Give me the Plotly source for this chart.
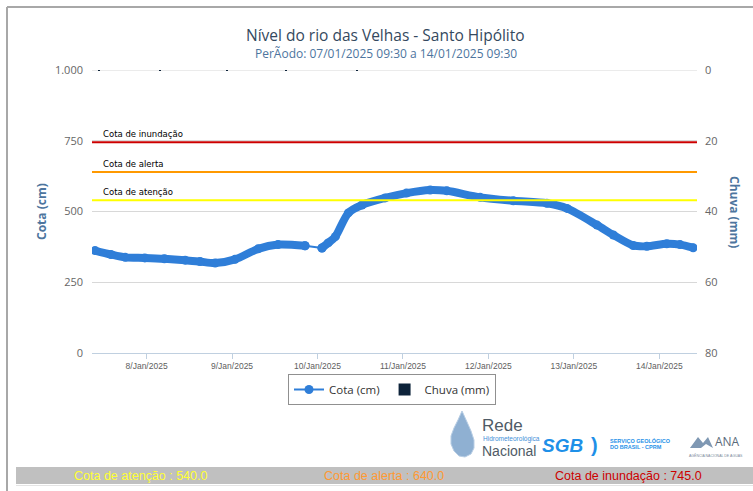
import plotly.graph_objects as go

# ---------------- data ----------------
cota_tempo_1 = ["2025-01-07 09:30", "2025-01-07 14:00", "2025-01-07 18:00", "2025-01-07 23:30",
                "2025-01-08 05:00", "2025-01-08 10:50", "2025-01-08 15:00", "2025-01-08 19:15",
                "2025-01-09 00:50", "2025-01-09 07:20", "2025-01-09 12:55", "2025-01-09 20:30"]
cota_valor_1 = [362, 348, 338, 336, 333, 328, 323, 318, 331, 368, 383, 379]

cota_tempo_2 = ["2025-01-10 01:15", "2025-01-10 03:00", "2025-01-10 05:00", "2025-01-10 08:40",
                "2025-01-10 12:30", "2025-01-10 19:00", "2025-01-11 01:00", "2025-01-11 07:40",
                "2025-01-11 12:20", "2025-01-11 21:40", "2025-01-12 07:00", "2025-01-12 16:25",
                "2025-01-12 22:05", "2025-01-13 06:30", "2025-01-13 11:05", "2025-01-13 16:40",
                "2025-01-13 20:30", "2025-01-14 02:05", "2025-01-14 05:50", "2025-01-14 09:30"]
cota_valor_2 = [371, 389, 411, 495, 523, 548, 565, 576, 573, 550, 538, 529, 511, 452, 417,
                380, 377, 386, 383, 372]

chuva_tempo = ["2025-01-07 10:35", "2025-01-08 03:50", "2025-01-08 22:35", "2025-01-09 15:10",
               "2025-01-10 11:05"]
chuva_valor = [0.25, 0.25, 0.25, 0.25, 0.25]

limiar_nome = ["Cota de inundação", "Cota de alerta", "Cota de atenção"]
limiar_valor = [745, 640, 540]
limiar_cor = ["#cc0000", "#ff9900", "#ffff00"]

y_ticks = [0, 250, 500, 750, 1000]
y_ticktext = ["0", "250", "500", "750", "1.000"]
y2_ticks = [0, 20, 40, 60, 80]

titulo = "Nível do rio das Velhas - Santo Hipólito"
subtitulo = "PerÃodo: 07/01/2025 09:30 a 14/01/2025 09:30"

rodape_texto = ["Cota de atenção : 540.0", "Cota de alerta : 640.0", "Cota de inundação : 745.0"]
rodape_cor = ["#ffff33", "#ff9933", "#cc0000"]

# ---------------- layout helpers ----------------
W, H = 753, 491
def px(x):
    return x / W
def py(y):
    return 1 - y / H

X0, X1 = 92, 697
Y0, Y1 = 70, 353

LINE = "#2f7ed8"
FONT = "Open Sans, DejaVu Sans, sans-serif"
NARROW = "Liberation Sans Narrow, Arial Narrow, Liberation Sans, sans-serif"

fig = go.Figure()

# thin connector across the data gap (also carries the legend entry)
fig.add_trace(go.Scatter(x=[cota_tempo_1[-1], cota_tempo_2[0]],
                         y=[cota_valor_1[-1], cota_valor_2[0]],
                         mode="lines+markers", name="Cota (cm)", legendgroup="cota",
                         line=dict(color=LINE, width=2),
                         marker=dict(color=LINE, size=9)))

# rain bars (secondary axis, reversed)
fig.add_trace(go.Bar(x=chuva_tempo, y=chuva_valor, yaxis="y2", name="Chuva (mm)",
                     marker=dict(color="#0d233a", line=dict(width=0)),
                     width=1500000))

for tt, vv in ((cota_tempo_1, cota_valor_1), (cota_tempo_2, cota_valor_2)):
    fig.add_trace(go.Scatter(x=tt, y=vv, mode="lines+markers",
                             name="Cota (cm)", legendgroup="cota", showlegend=False,
                             line=dict(color=LINE, width=8, shape="spline", smoothing=0.8),
                             marker=dict(color=LINE, size=9)))

shapes = []
annotations = []

# top grid line (edge of the range)
shapes.append(dict(type="line", xref="paper", yref="y", x0=px(X0), x1=px(X1),
                   y0=y_ticks[-1], y1=y_ticks[-1], line=dict(color="#d8d8d8", width=1),
                   layer="below"))

# threshold lines
for nome, val, cor in zip(limiar_nome, limiar_valor, limiar_cor):
    shapes.append(dict(type="line", xref="paper", yref="y", x0=px(X0), x1=px(X1),
                       y0=val, y1=val, line=dict(color=cor, width=2), layer="above"))
    annotations.append(dict(xref="paper", yref="y", x=px(101), y=val, text=nome,
                            showarrow=False, xanchor="left", yanchor="bottom", yshift=1,
                            font=dict(family="DejaVu Sans, Verdana, sans-serif", size=8.5,
                                      color="#000000")))

# outer frame
shapes.append(dict(type="line", xref="paper", yref="paper", x0=px(7), x1=1,
                   y0=py(7), y1=py(7), line=dict(color="#a8a8a8", width=2)))
shapes.append(dict(type="line", xref="paper", yref="paper", x0=px(7), x1=px(7),
                   y0=py(7), y1=0, line=dict(color="#a8a8a8", width=2)))

# footer gray bar
shapes.append(dict(type="rect", xref="paper", yref="paper", x0=px(16), x1=1,
                   y0=py(484), y1=py(467), fillcolor="#c0c0c0", line=dict(width=0)))
shapes.append(dict(type="line", xref="paper", yref="paper", x0=px(16), x1=1,
                   y0=py(485.5), y1=py(485.5), line=dict(color="#e4e4e4", width=1)))
for txt, cor, xc in zip(rodape_texto, rodape_cor, [140, 384, 628]):
    annotations.append(dict(xref="paper", yref="paper", x=px(xc), y=py(475.5), text=txt,
                            showarrow=False, xanchor="center", yanchor="middle",
                            font=dict(family=NARROW, size=12.5, color=cor)))

# title + subtitle
annotations.append(dict(xref="paper", yref="paper", x=px(385), y=py(35.5), text=titulo,
                        showarrow=False, xanchor="center", yanchor="middle",
                        font=dict(family=FONT, size=15.5, color="#34495e")))
annotations.append(dict(xref="paper", yref="paper", x=px(386), y=py(53.5), text=subtitulo,
                        showarrow=False, xanchor="center", yanchor="middle",
                        font=dict(family=FONT, size=12, color="#4d759e")))

# axis titles
annotations.append(dict(xref="paper", yref="paper", x=px(41), y=py(212), text="<b>Cota (cm)</b>",
                        showarrow=False, textangle=-90, xanchor="center", yanchor="middle",
                        font=dict(family=FONT, size=12, color="#4d759e")))
annotations.append(dict(xref="paper", yref="paper", x=px(735), y=py(212), text="<b>Chuva (mm)</b>",
                        showarrow=False, textangle=90, xanchor="center", yanchor="middle",
                        font=dict(family=FONT, size=12, color="#4d759e")))

# logos approximated with shapes and text
def path_from(points):
    segs = []
    for i, (x, y) in enumerate(points):
        segs.append(("M" if i == 0 else "L") + f" {px(x):.5f},{py(y):.5f}")
    return " ".join(segs) + " Z"

drop_pts = [(462, 411), (458, 420), (454, 428), (451, 436), (451, 444), (454, 451),
            (459, 456), (465, 457), (471, 454), (474, 448), (474, 440), (471, 431),
            (467, 422)]
shapes.append(dict(type="path", xref="paper", yref="paper", path=path_from(drop_pts),
                   fillcolor="#8fb0d2", line=dict(color="#b7cde4", width=1)))
ana_pts = [(690, 448), (698, 437), (703, 443), (708, 437), (713, 448), (706, 444), (701, 448)]
shapes.append(dict(type="path", xref="paper", yref="paper", path=path_from(ana_pts),
                   fillcolor="#7f98b3", line=dict(width=0)))

annotations.append(dict(xref="paper", yref="paper", x=px(480), y=py(425), text="Rede",
                        showarrow=False, xanchor="left", yanchor="middle",
                        font=dict(family=NARROW, size=17, color="#4f5b66")))
annotations.append(dict(xref="paper", yref="paper", x=px(481), y=py(439), text="Hidrometeorológica",
                        showarrow=False, xanchor="left", yanchor="middle",
                        font=dict(family=NARROW, size=6.5, color="#3f8fd8")))
annotations.append(dict(xref="paper", yref="paper", x=px(480), y=py(451), text="Nacional",
                        showarrow=False, xanchor="left", yanchor="middle",
                        font=dict(family=NARROW, size=14, color="#4f5b66")))
annotations.append(dict(xref="paper", yref="paper", x=px(540), y=py(445), text="<b><i>SGB</i></b>",
                        showarrow=False, xanchor="left", yanchor="middle",
                        font=dict(family="Liberation Sans, sans-serif", size=19, color="#1e90e8")))
annotations.append(dict(xref="paper", yref="paper", x=px(589), y=py(445), text="<b>)</b>",
                        showarrow=False, xanchor="left", yanchor="middle",
                        font=dict(family="Liberation Sans, sans-serif", size=20, color="#1e90e8")))
annotations.append(dict(xref="paper", yref="paper", x=px(608), y=py(440), text="<b>SERVIÇO GEOLÓGICO</b>",
                        showarrow=False, xanchor="left", yanchor="middle",
                        font=dict(family=NARROW, size=5.5, color="#1e90e8")))
annotations.append(dict(xref="paper", yref="paper", x=px(608), y=py(447), text="<b>DO BRASIL - CPRM</b>",
                        showarrow=False, xanchor="left", yanchor="middle",
                        font=dict(family=NARROW, size=5.5, color="#1e90e8")))
annotations.append(dict(xref="paper", yref="paper", x=px(713), y=py(441), text="ANA",
                        showarrow=False, xanchor="left", yanchor="middle",
                        font=dict(family=FONT, size=12, color="#5a6a7a")))
annotations.append(dict(xref="paper", yref="paper", x=px(716), y=py(455), text="AGÊNCIA NACIONAL DE ÁGUAS",
                        showarrow=False, xanchor="center", yanchor="middle",
                        font=dict(family=NARROW, size=3.5, color="#7a8a9a")))

fig.update_layout(
    template="none",
    width=W, height=H, autosize=False,
    margin=dict(l=0, r=0, t=0, b=0, pad=0, autoexpand=False),
    paper_bgcolor="#ffffff", plot_bgcolor="#ffffff",
    showlegend=True,
    legend=dict(orientation="h", x=px(392), y=py(374), xanchor="center", yanchor="top",
                bordercolor="#909090", borderwidth=1, bgcolor="#ffffff",
                font=dict(family=FONT, size=11.5, color="#333333"),
                traceorder="normal", itemwidth=30, tracegroupgap=0),
    xaxis=dict(domain=[px(X0), px(X1)], type="date", automargin=False,
               range=["2025-01-07 08:40", "2025-01-14 10:35"],
               dtick=86400000, tick0="2025-01-08", tickformat="%-d/%b/%Y",
               showgrid=False, showline=True, linecolor="#c0d0e0", linewidth=1,
               ticks="outside", ticklen=5, tickcolor="#c0d0e0",
               tickfont=dict(family=NARROW, size=8.5, color="#606060"),
               zeroline=False, fixedrange=True),
    yaxis=dict(domain=[py(Y1), py(Y0)], range=[0, 1000], automargin=False,
               tickvals=y_ticks, ticktext=y_ticktext,
               showgrid=True, gridcolor="#d8d8d8", gridwidth=1,
               zeroline=False, showline=False, ticks="",
               ticklabelstandoff=8,
               tickfont=dict(family=FONT, size=11, color="#666666")),
    yaxis2=dict(overlaying="y", side="right", range=[80, 0], anchor="x", automargin=False,
                tickvals=y2_ticks, showgrid=False, zeroline=False, showline=False,
                ticks="", ticklabelstandoff=7,
                tickfont=dict(family=FONT, size=11, color="#666666")),
    shapes=shapes,
    annotations=annotations,
    bargap=0,
)

fig.write_html("out.html",
               config={"displayModeBar": False, "responsive": False},
               post_script="document.body.style.margin='0';document.body.style.overflow='hidden';")
